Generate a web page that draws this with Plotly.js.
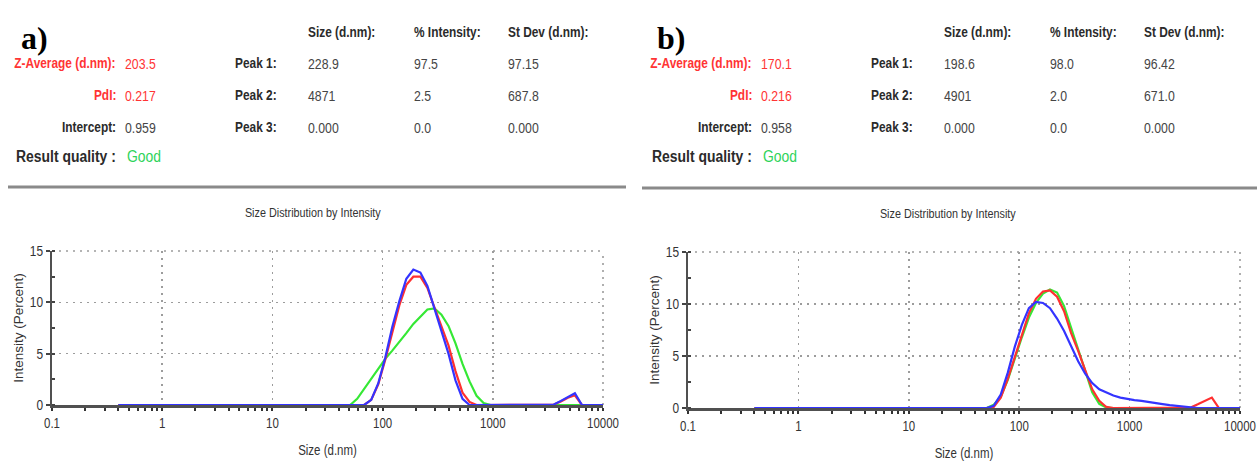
<!DOCTYPE html>
<html>
<head>
<meta charset="utf-8">
<script src="https://cdn.plot.ly/plotly-3.0.1.min.js"></script>
<style>
  html, body { margin: 0; padding: 0; background: #fff; }
  #chart { width: 1257px; height: 461px; }
</style>
</head>
<body>
<div id="chart"></div>
<script>
// Size classes (d.nm) of the intensity distribution, shared by both samples
const sizeBins = [0.4, 0.4632, 0.5365, 0.6213, 0.7195, 0.8332, 0.9649, 1.117, 1.294, 1.499,
  1.736, 2.010, 2.328, 2.696, 3.122, 3.615, 4.187, 4.849, 5.615, 6.503,
  7.531, 8.721, 10.10, 11.70, 13.54, 15.69, 18.17, 21.04, 24.36, 28.21,
  32.67, 37.84, 43.82, 50.75, 58.77, 68.06, 78.82, 91.28, 105.7, 122.4,
  141.8, 164.2, 190.1, 220.2, 255.0, 295.3, 342.0, 396.1, 458.7, 531.2,
  615.1, 712.4, 825.0, 955.4, 1106, 1281, 1484, 1718, 1990, 2305,
  2669, 3091, 3580, 4145, 4801, 5560, 6439, 7456, 8635, 10000];

// classes 0.4 ... 43.82 nm carry no intensity in any run
const Z33 = new Array(33).fill(0);

// Sample a) – intensity (%) per class, from 50.75 nm upward
const aRed = Z33.concat([0, 0, 0, 0.5, 2.0, 4.4, 7.1, 9.7, 11.7, 12.5, 12.5, 11.4, 9.5, 7.6, 5.8, 3.3, 1.2, 0.3,
  0, 0, 0, 0, 0, 0, 0, 0, 0, 0, 0, 0.05, 0.35, 0.7, 0.95, 0, 0, 0, 0]);
const aBlue = Z33.concat([0, 0, 0, 0.5, 2.1, 4.6, 7.6, 10.1, 12.3, 13.2, 12.9, 11.6, 9.4, 7.2, 5.0, 2.4, 0.6, 0,
  0, 0, 0, 0, 0, 0, 0, 0, 0, 0, 0, 0.05, 0.4, 0.8, 1.15, 0, 0, 0, 0]);
const aGreen = Z33.concat([0, 0.6, 1.6, 2.6, 3.6, 4.5, 5.3, 6.1, 7.0, 7.9, 8.6, 9.3, 9.4, 8.8, 7.7, 6.0, 4.0, 2.3,
  0.9, 0.2, 0, 0, 0, 0, 0, 0, 0, 0, 0, 0, 0, 0, 0, 0, 0, 0, 0]);

// Sample b)
const bRed = Z33.concat([0, 0.1, 1.0, 2.8, 4.9, 7.0, 9.1, 10.5, 11.2, 11.3, 10.7, 9.3, 7.2, 5.5, 3.7, 1.8, 0.7, 0.1,
  0, 0, 0, 0, 0, 0, 0, 0, 0, 0, 0.02, 0.05, 0.35, 0.7, 1.0, 0, 0, 0, 0]);
const bBlue = Z33.concat([0, 0.2, 1.3, 3.4, 5.9, 8.0, 9.6, 10.2, 10.1, 9.6, 8.6, 7.4, 6.0, 4.5, 3.3, 2.4, 1.8, 1.5,
  1.2, 1.0, 0.85, 0.75, 0.68, 0.6, 0.5, 0.38, 0.28, 0.2, 0.12, 0.05, 0, 0, 0, 0, 0, 0, 0]);
const bGreen = Z33.concat([0, 0.3, 1.1, 2.7, 4.8, 6.8, 8.7, 10.1, 11.0, 11.4, 11.1, 9.8, 7.7, 5.6, 3.5, 1.5, 0.4, 0.05,
  0, 0, 0, 0, 0, 0, 0, 0, 0, 0, 0, 0, 0, 0, 0, 0, 0, 0, 0]);

// Axis tick labels
const sizeTicks = [0.1, 1, 10, 100, 1000, 10000];
const sizeTickText = ['0.1', '1', '10', '100', '1000', '10000'];

// Result summary tables
const summaryLabels = ['Z-Average (d.nm):', 'PdI:', 'Intercept:'];
const summaryA = ['203.5', '0.217', '0.959'];
const summaryB = ['170.1', '0.216', '0.958'];
const qualityA = 'Good';
const qualityB = 'Good';
const columnHeads = ['Size (d.nm):', '% Intensity:', 'St Dev (d.nm):'];
const peakLabels = ['Peak 1:', 'Peak 2:', 'Peak 3:'];
const peaksA = [['228.9', '97.5', '97.15'], ['4871', '2.5', '687.8'], ['0.000', '0.0', '0.000']];
const peaksB = [['198.6', '98.0', '96.42'], ['4901', '2.0', '671.0'], ['0.000', '0.0', '0.000']];

const W = 1257, H = 461;
const SANS = '"Liberation Sans", Arial, sans-serif';
const RED = '#ff3434', GREEN = '#2fd35a', DARK = '#2b2b2b', VAL = '#454545';
const LINE_RED = '#ff3030', LINE_GREEN = '#35e835', LINE_BLUE = '#3434ff';
// horizontal text is set in a condensed style
const SQUEEZE = 0.82;

const px = v => v / W;
const py = v => 1 - v / H;

function note(x, y, text, o) {
  o = o || {};
  const xa = o.xa || 'left';
  return {
    name: o.name || 'text',
    xref: 'paper', yref: 'paper', x: px(x), y: py(y), text: text, showarrow: false,
    xanchor: xa, align: xa, yanchor: 'middle',
    font: { family: o.family || SANS, size: o.size || 15, color: o.color || VAL, weight: o.weight || 'normal' }
  };
}

function header(dx, tag, summary, quality, peaks) {
  const out = [];
  out.push(note(19 + dx, 38, tag, { name: 'tag', family: '"Liberation Serif", "Times New Roman", serif', size: 32, color: '#000', weight: 'bold' }));
  const rows = [63, 95, 127];
  summaryLabels.forEach((lab, i) => {
    const c = i < 2 ? RED : DARK;
    out.push(note(118 + dx, rows[i], lab, { xa: 'right', color: c, weight: 'bold', size: 14.5 }));
    out.push(note(123 + dx, rows[i], summary[i], { color: i < 2 ? RED : VAL }));
  });
  out.push(note(118 + dx, 157, 'Result quality :', { xa: 'right', color: DARK, weight: 'bold', size: 17 }));
  out.push(note(125 + dx, 157, quality, { color: GREEN, size: 17 }));
  const cols = [306, 412, 506];
  columnHeads.forEach((h, j) => out.push(note(cols[j] + dx, 32, h, { color: DARK, weight: 'bold', size: 14.5 })));
  peakLabels.forEach((p, i) => {
    out.push(note(233 + dx, rows[i], p, { color: DARK, weight: 'bold', size: 14.5 }));
    peaks[i].forEach((v, j) => out.push(note(cols[j] + dx, rows[i], v)));
  });
  return out;
}

const GRID_COLOR = '#9c9c9c', GRID_DASH = '2px,5px';
const gridStyle = { showgrid: true, gridcolor: GRID_COLOR, gridwidth: 1.6, griddash: GRID_DASH };

function xAxis(domain, anchor) {
  return Object.assign({
    type: 'log', range: [-1, 4], domain: domain, anchor: anchor,
    tickmode: 'array', tickvals: sizeTicks, ticktext: sizeTickText,
    showline: true, linecolor: '#505050', linewidth: 3, layer: 'below traces',
    ticks: 'outside', ticklen: 3, tickwidth: 2, tickcolor: '#333',
    minor: { dtick: 'D1', ticks: 'outside', ticklen: 3, tickwidth: 2, tickcolor: '#333', showgrid: false },
    zeroline: false, fixedrange: true, ticklabeloverflow: 'allow',
    tickfont: { family: SANS, size: 14, color: '#333' },
    title: { text: 'Size (d.nm)', font: { family: SANS, size: 14, color: '#333' }, standoff: 16 }
  }, gridStyle);
}

function yAxis(domain, anchor) {
  return Object.assign({
    range: [0, 15], domain: domain, anchor: anchor, tickmode: 'linear', tick0: 0, dtick: 5,
    showline: true, linecolor: '#505050', linewidth: 2, layer: 'below traces',
    ticks: 'outside', ticklen: 4, tickwidth: 2, tickcolor: '#444',
    minor: { dtick: 2.5, ticks: 'inside', ticklen: 3, tickwidth: 2, tickcolor: '#444', showgrid: false },
    zeroline: false, fixedrange: true,
    tickfont: { family: SANS, size: 14.5, color: '#333' },
    title: { text: 'Intensity (Percent)', font: { family: SANS, size: 13.5, color: '#333' }, standoff: 0 }
  }, gridStyle);
}

function curve(y, color, xa, ya) {
  return { x: sizeBins, y: y, xaxis: xa, yaxis: ya, type: 'scatter', mode: 'lines',
    line: { color: color, width: 2.2 }, cliponaxis: false, hoverinfo: 'skip' };
}

// dotted frame along the top and right edge of a plot area
function frameEdges(xa, ya) {
  const line = { color: GRID_COLOR, width: 1.6, dash: GRID_DASH };
  return [
    { type: 'line', xref: xa + ' domain', yref: ya + ' domain', x0: 0, x1: 1, y0: 1, y1: 1, line: line, layer: 'below' },
    { type: 'line', xref: xa + ' domain', yref: ya + ' domain', x0: 1, x1: 1, y0: 0, y1: 1, line: line, layer: 'below' }
  ];
}

const traces = [
  curve(aGreen, LINE_GREEN, 'x', 'y'),
  curve(aRed, LINE_RED, 'x', 'y'),
  curve(aBlue, LINE_BLUE, 'x', 'y'),
  curve(bGreen, LINE_GREEN, 'x2', 'y2'),
  curve(bRed, LINE_RED, 'x2', 'y2'),
  curve(bBlue, LINE_BLUE, 'x2', 'y2')
];

const annotations = []
  .concat(header(0, 'a)', summaryA, qualityA, peaksA))
  .concat(header(636, 'b)', summaryB, qualityB, peaksB))
  .concat([
    note(313, 212, 'Size Distribution by Intensity', { xa: 'center', size: 13.2, color: '#333' }),
    note(948, 213, 'Size Distribution by Intensity', { xa: 'center', size: 13.2, color: '#333' })
  ]);

const layout = {
  width: W, height: H,
  margin: { l: 0, r: 0, t: 0, b: 0 },
  paper_bgcolor: '#fff', plot_bgcolor: '#fff',
  showlegend: false,
  xaxis: xAxis([px(52), px(603)], 'y'),
  yaxis: yAxis([py(405), py(251)], 'x'),
  xaxis2: xAxis([px(688), px(1240)], 'y2'),
  yaxis2: yAxis([py(408), py(252)], 'x2'),
  annotations: annotations,
  shapes: [
    { type: 'line', xref: 'paper', yref: 'paper', x0: px(8), x1: px(626), y0: py(187), y1: py(187),
      line: { color: '#8a8a8a', width: 3 } },
    { type: 'line', xref: 'paper', yref: 'paper', x0: px(642), x1: px(1257), y0: py(188), y1: py(188),
      line: { color: '#8a8a8a', width: 3 } }
  ].concat(frameEdges('x', 'y'), frameEdges('x2', 'y2'))
};

// narrow a text element horizontally about its anchor point
function condense(el) {
  const x0 = parseFloat(el.getAttribute('x')) || 0;
  const prev = el.getAttribute('transform') || '';
  el.setAttribute('transform', prev + ' translate(' + x0 + ',0) scale(' + SQUEEZE + ',1) translate(' + (-x0) + ',0)');
}

Plotly.newPlot('chart', traces, layout, { staticPlot: true, displayModeBar: false }).then(gd => {
  gd.querySelectorAll('.annotation').forEach(g => {
    const a = layout.annotations[+g.getAttribute('data-index')];
    if (!a || a.name === 'tag') return;
    g.querySelectorAll('text').forEach(condense);
  });
  gd.querySelectorAll('.xtick text, .x2tick text, .ytick text, .y2tick text, .xtitle, .x2title').forEach(condense);
});
</script>
</body>
</html>
